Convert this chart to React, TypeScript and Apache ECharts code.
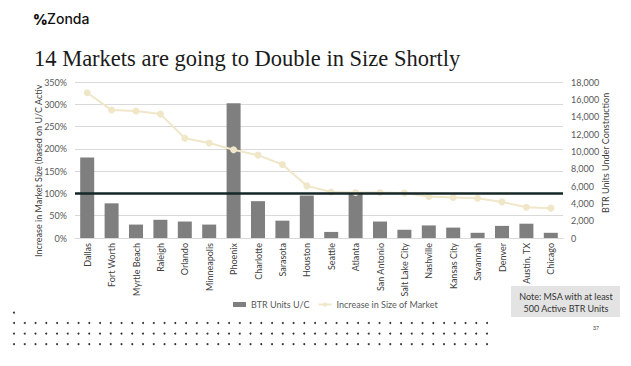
import React, { useEffect, useRef } from "react";
import * as echarts from "echarts";

const categories = [
  "Dallas", "Fort Worth", "Myrtle Beach", "Raleigh", "Orlando", "Minneapolis",
  "Phoenix", "Charlotte", "Sarasota", "Houston", "Seattle", "Atlanta",
  "San Antonio", "Salt Lake City", "Nashville", "Kansas City", "Savannah",
  "Denver", "Austin, TX", "Chicago",
];
const btrUnitsUC = [
  9300, 4000, 1550, 2100, 1900, 1550, 15550, 4250, 2000, 4900, 700, 5100,
  1900, 950, 1450, 1200, 600, 1400, 1650, 600,
];
const marketIncrease = [
  326, 287, 285, 278, 224, 213, 198, 186, 165, 117, 103, 102, 102, 101, 93,
  91, 89, 81, 69, 67,
];
const leftTicks = { min: 0, max: 350, interval: 50 };
const rightTicks = { min: 0, max: 18000, interval: 2000 };
const doubleLine = 100;

const FONT = "Lato";

export default function App() {
  const ref = useRef<HTMLDivElement>(null);
  useEffect(() => {
    if (!ref.current) return;
    const chart = echarts.init(ref.current, null, { renderer: "svg" });

    const dots: any[] = [];
    for (let r = 0; r < 3; r++) {
      for (let i = 0; i < 45; i++) {
        dots.push({
          type: "circle",
          shape: { cx: 14 + i * 10.75, cy: 323 + r * 10.6, r: 1 },
          style: { fill: "#333" },
          silent: true,
        });
      }
    }
    dots.push({ type: "circle", shape: { cx: 14, cy: 312.7, r: 1 }, style: { fill: "#333" }, silent: true });
    dots.push({ type: "circle", shape: { cx: 24.7, cy: 312.7, r: 0.5 }, style: { fill: "#666" }, silent: true });

    chart.setOption({
      animation: false,
      backgroundColor: "#ffffff",
      grid: { left: 75, right: 68, top: 82, bottom: 128, containLabel: false },
      legend: {
        left: 228,
        top: 295,
        itemWidth: 13,
        itemHeight: 5,
        itemGap: 8,
        textStyle: { fontFamily: FONT, fontSize: 9, color: "#595959" },
        data: [
          { name: "BTR Units U/C", icon: "rect" },
          { name: "Increase in Size of Market" },
        ],
      },
      xAxis: {
        type: "category",
        data: categories,
        axisTick: { show: false },
        axisLine: { show: true, lineStyle: { color: "#d9d9d9" } },
        axisLabel: {
          rotate: 90,
          interval: 0,
          margin: 5,
          fontFamily: FONT,
          fontSize: 9,
          color: "#404040",
        },
      },
      yAxis: [
        {
          type: "value",
          ...leftTicks,
          position: "left",
          axisLine: { show: false },
          axisTick: { show: false },
          splitLine: { lineStyle: { color: "#d9d9d9", width: 1 } },
          axisLabel: {
            formatter: (v: number) => `${v}%`,
            margin: 8,
            fontFamily: FONT,
            fontSize: 9,
            color: "#595959",
          },
        },
        {
          type: "value",
          ...rightTicks,
          position: "right",
          axisLine: { show: false },
          axisTick: { show: false },
          splitLine: { show: false },
          axisLabel: {
            formatter: (v: number) => v.toLocaleString("en-US"),
            margin: 8,
            fontFamily: FONT,
            fontSize: 9,
            color: "#595959",
          },
        },
      ],
      series: [
        {
          name: "BTR Units U/C",
          type: "bar",
          yAxisIndex: 1,
          data: btrUnitsUC,
          barWidth: 14,
          itemStyle: { color: "#7f7f7f" },
        },
        {
          name: "Increase in Size of Market",
          type: "line",
          yAxisIndex: 0,
          data: marketIncrease,
          symbol: "circle",
          symbolSize: 7,
          lineStyle: { color: "#f0e6c8", width: 2 },
          itemStyle: { color: "#f0e6c8" },
          markLine: {
            silent: true,
            symbol: "none",
            label: { show: false },
            lineStyle: { color: "#142626", width: 2.5, type: "solid" },
            data: [{ yAxis: doubleLine }],
          },
        },
      ],
      graphic: [
        {
          type: "text",
          left: 33,
          top: 12,
          style: { text: "%", font: "900 14px Inter", fill: "#111" },
        },
        {
          type: "text",
          left: 47,
          top: 11,
          style: { text: "Zonda", font: "500 14px Inter", fill: "#111" },
        },
        {
          type: "text",
          left: 34,
          top: 47,
          style: {
            text: "14 Markets are going to Double in Size Shortly",
            font: "22.5px 'Liberation Serif'",
            fill: "#1a1a1a",
          },
        },
        {
          type: "text",
          x: 38.5,
          y: 257,
          rotation: Math.PI / 2,
          style: {
            text: "Increase in Market Size (based on U/C Activ",
            font: `9px ${FONT}`,
            fill: "#404040",
            align: "left",
            verticalAlign: "middle",
          },
        },
        {
          type: "text",
          x: 605,
          y: 213,
          rotation: Math.PI / 2,
          style: {
            text: "BTR Units Under Construction",
            font: `9px ${FONT}`,
            fill: "#404040",
            align: "left",
            verticalAlign: "middle",
          },
        },
        {
          type: "rect",
          shape: { x: 511, y: 286, width: 109, height: 31 },
          style: { fill: "#e3e3e3" },
          silent: true,
        },
        {
          type: "text",
          x: 566,
          y: 296,
          style: {
            text: "Note: MSA with at least",
            font: `9px ${FONT}`,
            fill: "#333",
            align: "center",
            verticalAlign: "middle",
          },
        },
        {
          type: "text",
          x: 566,
          y: 308,
          style: {
            text: "500 Active BTR Units",
            font: `9px ${FONT}`,
            fill: "#333",
            align: "center",
            verticalAlign: "middle",
          },
        },
        {
          type: "text",
          x: 596,
          y: 328,
          style: {
            text: "37",
            font: `5px ${FONT}`,
            fill: "#333",
            align: "center",
            verticalAlign: "middle",
          },
        },
        ...dots,
      ],
    });
    return () => chart.dispose();
  }, []);
  return (
    <div
      ref={ref}
      style={{ position: "fixed", left: 0, top: 0, width: 631, height: 366 }}
    />
  );
}
